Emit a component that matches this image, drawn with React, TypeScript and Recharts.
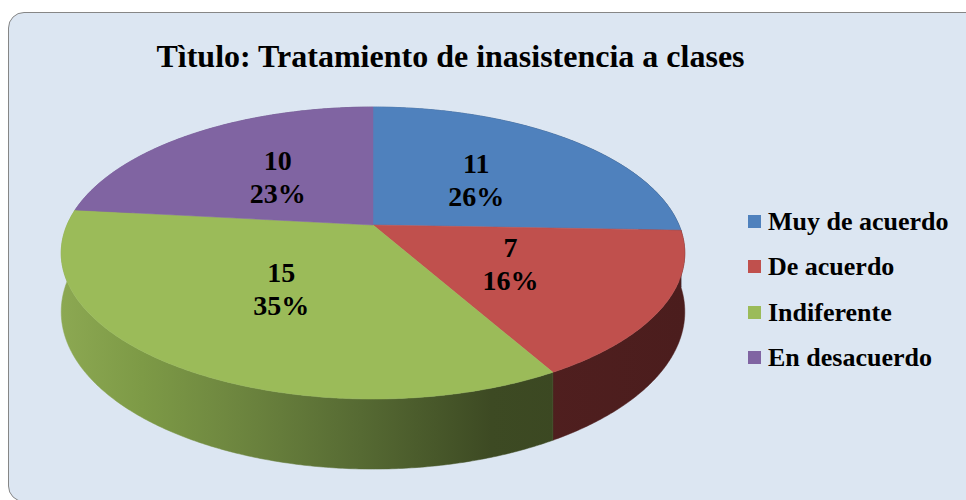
import React from 'react';
import { PieChart, Pie, Cell, Legend } from 'recharts';

// ---- data ----
const categories = ['Muy de acuerdo', 'De acuerdo', 'Indiferente', 'En desacuerdo'];
const counts = [11, 7, 15, 10];
const chartTitle = 'Tìtulo: Tratamiento de inasistencia a clases';

// ---- styles ----
const topColors = ['#4f81bd', '#c0504d', '#9bbb59', '#8064a2'];
const sideStops: [number, string][][] = [
  [[0, '#5b88c2'], [0.5, '#3d5f8c'], [1, '#22364f']],
  [[0, '#a4433f'], [0.5, '#7a302e'], [0.75, '#501f1f'], [1, '#4b1d1d']],
  [[0, '#8ca852'], [0.13, '#7d9a46'], [0.266, '#6f8840'], [0.48, '#566a33'], [0.69, '#3d4a23'], [1, '#384420']],
  [[0, '#7a5f9c'], [0.5, '#584373'], [1, '#3a2c4c']],
];

const FONT = "'Liberation Serif', 'Times New Roman', Times, serif";
const TILT = 0.4595; // vertical radius / horizontal radius
const PERSP = 0.192; // perspective strength
const DEPTH = 0.185; // side height / radius
const LABEL_R = 0.5;

const data = categories.map((name, i) => ({ name, value: counts[i] }));

function project(cx: number, cy: number, R: number, angleDeg: number, r = 1) {
  const a = (angleDeg * Math.PI) / 180;
  const u = r * Math.cos(a);
  const v = -r * Math.sin(a);
  const d = 1 - PERSP * v;
  return { x: cx + (R * u) / d, y: cy + (R * TILT * v) / d, depth: (R * DEPTH) / d };
}

function arcPoints(cx: number, cy: number, R: number, start: number, end: number) {
  const n = Math.max(8, Math.ceil(Math.abs(end - start) * 2));
  const pts = [];
  for (let i = 0; i <= n; i++) pts.push(project(cx, cy, R, start + ((end - start) * i) / n));
  return pts;
}

const renderWall = (props: any) => {
  const { cx, cy, outerRadius, startAngle, endAngle, index } = props;
  const pts = arcPoints(cx, cy, outerRadius, startAngle, endAngle);
  const top = pts.map((p) => `${p.x.toFixed(2)},${p.y.toFixed(2)}`);
  const bottom = pts
    .slice()
    .reverse()
    .map((p) => `${p.x.toFixed(2)},${(p.y + p.depth).toFixed(2)}`);
  const d = `M${top.join('L')}L${bottom.join('L')}Z`;
  const id = `wall-grad-${index}`;
  return (
    <g key={`wall-${index}`}>
      <defs>
        <linearGradient
          id={id}
          gradientUnits="userSpaceOnUse"
          x1={cx - outerRadius * 1.02}
          x2={cx + outerRadius * 1.02}
          y1={0}
          y2={0}
        >
          {sideStops[index].map(([o, c]) => (
            <stop key={o} offset={o} stopColor={c} />
          ))}
        </linearGradient>
      </defs>
      <path d={d} fill={`url(#${id})`} stroke={`url(#${id})`} strokeWidth={0.5} />
    </g>
  );
};

const renderTop = (props: any) => {
  const { cx, cy, outerRadius, startAngle, endAngle, index } = props;
  const pts = arcPoints(cx, cy, outerRadius, startAngle, endAngle);
  const d = `M${cx},${cy}L${pts.map((p) => `${p.x.toFixed(2)},${p.y.toFixed(2)}`).join('L')}Z`;
  return (
    <path
      key={`top-${index}`}
      d={d}
      fill={topColors[index]}
      stroke={topColors[index]}
      strokeWidth={0.5}
    />
  );
};

const renderText = (props: any) => {
  const { cx, cy, outerRadius, midAngle, value, percent, index } = props;
  const p = project(cx, cy, outerRadius, midAngle, LABEL_R);
  return (
    <text
      key={`txt-${index}`}
      textAnchor="middle"
      fontFamily={FONT}
      fontWeight="bold"
      fontSize={28}
      fill="#000"
    >
      <tspan x={p.x} y={p.y - 6.5}>
        {value}
      </tspan>
      <tspan x={p.x} y={p.y + 26.5}>
        {`${Math.round(percent * 100)}%`}
      </tspan>
    </text>
  );
};

const renderLegend = (props: any) => {
  const payload: any[] = props.payload || [];
  const seen = new Set<string>();
  const items: { name: string; color: string }[] = [];
  categories.forEach((name, i) => {
    if (!seen.has(name)) {
      seen.add(name);
      const entry = payload.find((e) => e && e.value === name);
      items.push({ name, color: topColors[i] || (entry && entry.color) });
    }
  });
  return (
    <div style={{ fontFamily: FONT, fontWeight: 'bold', fontSize: 26, color: '#000' }}>
      {items.map((it) => (
        <div key={it.name} style={{ display: 'flex', alignItems: 'center', height: 45.3, whiteSpace: 'nowrap' }}>
          <span
            style={{
              display: 'inline-block',
              width: 13,
              height: 13,
              background: it.color,
              marginRight: 7,
              flex: 'none',
            }}
          />
          <span style={{ lineHeight: '45px' }}>{it.name}</span>
        </div>
      ))}
    </div>
  );
};

export default function App() {
  const pieCommon = {
    data,
    dataKey: 'value',
    nameKey: 'name',
    cx: 373,
    cy: 225,
    outerRadius: 306,
    startAngle: 90,
    endAngle: -270,
    stroke: 'none',
    labelLine: false,
    isAnimationActive: false,
  } as const;

  return (
    <div style={{ position: 'absolute', left: 0, top: 0, width: 966, height: 500, overflow: 'hidden', background: '#fff' }}>
      <div
        style={{
          position: 'absolute',
          left: 8,
          top: 12,
          width: 975,
          height: 490,
          boxSizing: 'border-box',
          border: '1.5px solid #868686',
          borderRadius: 16,
          background: '#dce6f2',
        }}
      />
      <div style={{ position: 'absolute', left: 0, top: 0 }}>
        <PieChart width={966} height={500} margin={{ top: 0, right: 0, bottom: 0, left: 0 }}>
          <Pie {...pieCommon} legendType="none" label={renderWall}>
            {data.map((d, i) => (
              <Cell key={d.name} fill={topColors[i]} fillOpacity={0} />
            ))}
          </Pie>
          <Pie {...pieCommon} label={renderTop}>
            {data.map((d, i) => (
              <Cell key={d.name} fill={topColors[i]} fillOpacity={0} />
            ))}
          </Pie>
          <Pie {...pieCommon} legendType="none" label={renderText}>
            {data.map((d, i) => (
              <Cell key={d.name} fill={topColors[i]} fillOpacity={0} />
            ))}
          </Pie>
          <Legend
            layout="vertical"
            align="right"
            verticalAlign="top"
            content={renderLegend}
            wrapperStyle={{ left: 748, top: 199, width: 215, right: 'auto', bottom: 'auto' }}
          />
        </PieChart>
      </div>
      <svg width={966} height={100} style={{ position: 'absolute', left: 0, top: 0, pointerEvents: 'none' }}>
        <text x={450.5} y={67} textAnchor="middle" fontFamily={FONT} fontWeight="bold" fontSize={32} fill="#000">
          {chartTitle}
        </text>
      </svg>
    </div>
  );
}
